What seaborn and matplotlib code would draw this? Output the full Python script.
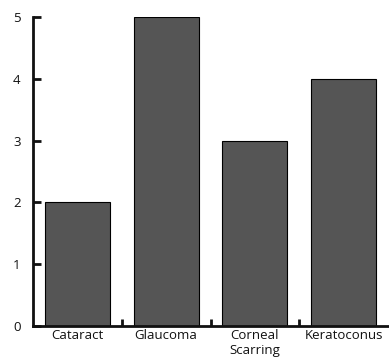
import matplotlib
matplotlib.use("Agg")
import matplotlib.pyplot as plt
import seaborn as sns
import pandas as pd

categories = ["Cataract", "Glaucoma", "Corneal\nScarring", "Keratoconus"]
values = [2, 5, 3, 4]
yticks = [0, 1, 2, 3, 4, 5]

sns.set_style("white")
plt.rcParams['font.family'] = ['Open Sans', 'DejaVu Sans']

fig = plt.figure(figsize=(3.89, 3.62), dpi=100)
ax = fig.add_axes([33/389, 1-326/362, (388-33)/389, (326-17)/362])
df = pd.DataFrame({"cat": categories, "val": values})
sns.barplot(data=df, x="cat", y="val", ax=ax, color="#555555", saturation=1,
            width=0.73, edgecolor="black", linewidth=0.8)
ax.set_xlim(-0.5, 3.5)
ax.set_ylim(0, 5)
ax.set_yticks(yticks)
ax.set_xlabel("")
ax.set_ylabel("")
for s in ["top", "right"]:
    ax.spines[s].set_visible(False)
for s in ["left", "bottom"]:
    ax.spines[s].set_linewidth(2)
    ax.spines[s].set_color("#111111")
ax.tick_params(axis="y", left=True, direction="in", length=6, width=2, labelsize=9.5,
               pad=9, colors="#111111")
ax.tick_params(axis="x", which="major", bottom=False, length=0, labelsize=9.5, pad=2,
               colors="#111111")
ax.set_xticks([0.5, 1.5, 2.5], minor=True)
ax.tick_params(axis="x", which="minor", bottom=True, direction="in", length=5, width=2,
               color="#111111")
for lbl in ax.get_xticklabels():
    lbl.set_linespacing(1.25)
fig.savefig("out.png", dpi=100)
